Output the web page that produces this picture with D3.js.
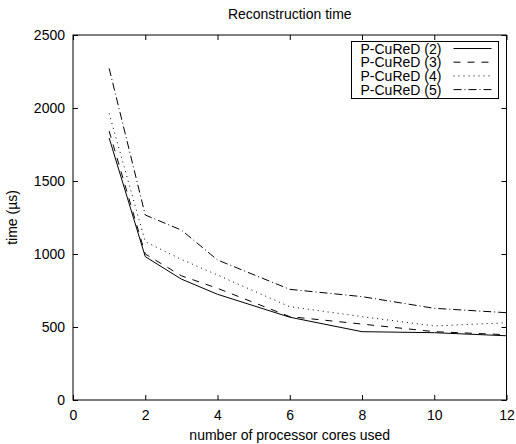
<!DOCTYPE html>
<html>
<head>
<meta charset="utf-8">
<script src="https://cdn.jsdelivr.net/npm/d3@7"></script>
<style>
  body { margin: 0; background: #fff; }
  text { font-family: "Liberation Sans", Arial, sans-serif; }
</style>
</head>
<body>
<svg id="chart"></svg>
<script>
// Data
const cores = [1, 2, 3, 4, 6, 8, 10, 12];
const cured2 = [1795, 982, 828, 724, 567, 468, 461, 440];
const cured3 = [1842, 1000, 851, 765, 571, 520, 468, 447];
const cured4 = [1963, 1084, 963, 856, 639, 571, 507, 529];
const cured5 = [2272, 1267, 1164, 959, 758, 708, 628, 598];
const seriesNames = ["P-CuReD (2)", "P-CuReD (3)", "P-CuReD (4)", "P-CuReD (5)"];
const xTicks = [0, 2, 4, 6, 8, 10, 12];
const yTicks = [0, 500, 1000, 1500, 2000, 2500];

const width = 516;
const height = 444;
const margin = { top: 35, right: 9.5, bottom: 44, left: 73 };

const svg = d3.select("#chart")
    .attr("width", width)
    .attr("height", height);

const plotW = width - margin.left - margin.right;
const plotH = height - margin.top - margin.bottom;

const x = d3.scaleLinear().domain([0, 12]).range([0, plotW]);
const y = d3.scaleLinear().domain([0, 2500]).range([plotH, 0]);

const chart = svg.append("g")
    .attr("transform", `translate(${margin.left}, ${margin.top})`);

// Axes with inward ticks on all four sides
const tickLen = 5;
chart.append("g")
    .attr("transform", `translate(0, ${plotH})`)
    .call(d3.axisBottom(x).tickValues(xTicks).tickSizeInner(-tickLen).tickSizeOuter(0)
        .tickPadding(10).tickFormat(d3.format("d")))
    .call(g => g.select(".domain").remove());
chart.append("g")
    .call(d3.axisTop(x).tickValues(xTicks).tickSizeInner(-tickLen).tickSizeOuter(0).tickFormat(""))
    .call(g => g.select(".domain").remove());
chart.append("g")
    .call(d3.axisLeft(y).tickValues(yTicks).tickSizeInner(-tickLen).tickSizeOuter(0)
        .tickPadding(8).tickFormat(d3.format("d")))
    .call(g => g.select(".domain").remove());
chart.append("g")
    .attr("transform", `translate(${plotW}, 0)`)
    .call(d3.axisRight(y).tickValues(yTicks).tickSizeInner(-tickLen).tickSizeOuter(0).tickFormat(""))
    .call(g => g.select(".domain").remove());

chart.selectAll(".tick text")
    .attr("font-size", "14px")
    .attr("font-family", "'Liberation Sans', Arial, sans-serif")
    .attr("fill", "#000");
chart.selectAll(".tick line").attr("stroke", "#000");

// Plot border
chart.append("rect")
    .attr("width", plotW)
    .attr("height", plotH)
    .attr("fill", "none")
    .attr("stroke", "#000")
    .attr("stroke-width", 1);

// Series lines
const dashes = ["", "7,7", "1,4", "8,3,1,3"];
const allSeries = [cured2, cured3, cured4, cured5];
const line = d3.line()
    .x((d, i) => x(cores[i]))
    .y(d => y(d));

allSeries.forEach((vals, k) => {
    chart.append("path")
        .datum(vals)
        .attr("d", line)
        .attr("fill", "none")
        .attr("stroke", "#000")
        .attr("stroke-width", 1)
        .attr("stroke-dasharray", dashes[k]);
});

// Legend
const legend = svg.append("g").attr("transform", "translate(351.5, 41.5)");
legend.append("rect")
    .attr("width", 147)
    .attr("height", 57)
    .attr("fill", "#fff")
    .attr("stroke", "#000")
    .attr("stroke-width", 1);
seriesNames.forEach((name, k) => {
    const base = 12 + k * 13.7;
    legend.append("text")
        .attr("x", 9)
        .attr("y", base)
        .attr("font-size", "14px")
        .attr("fill", "#000")
        .text(name);
    legend.append("line")
        .attr("x1", 102)
        .attr("x2", 140)
        .attr("y1", base - 5)
        .attr("y2", base - 5)
        .attr("stroke", "#000")
        .attr("stroke-width", 1)
        .attr("stroke-dasharray", dashes[k]);
});

// Title and axis labels
svg.append("text")
    .attr("x", margin.left + plotW / 2)
    .attr("y", 19)
    .attr("text-anchor", "middle")
    .attr("font-size", "14px")
    .text("Reconstruction time");

svg.append("text")
    .attr("x", margin.left + plotW / 2)
    .attr("y", 440)
    .attr("text-anchor", "middle")
    .attr("font-size", "14px")
    .text("number of processor cores used");

svg.append("text")
    .attr("transform", `translate(17, ${margin.top + plotH / 2}) rotate(-90)`)
    .attr("text-anchor", "middle")
    .attr("font-size", "14px")
    .text("time (µs)");
</script>
</body>
</html>
